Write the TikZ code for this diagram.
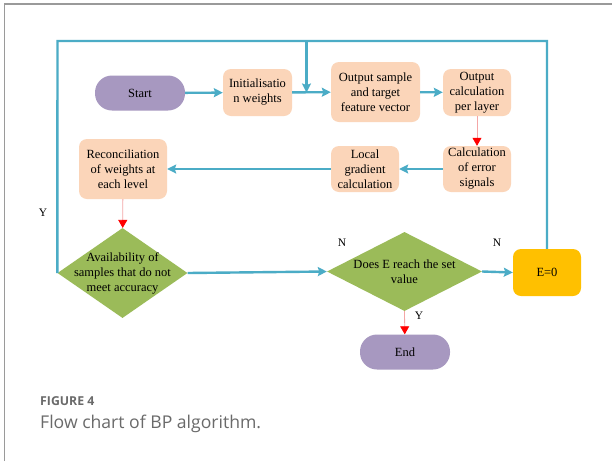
\documentclass[tikz,border=0pt]{standalone}
\usepackage{fontspec}
\setmainfont{Liberation Serif}
\newfontfamily\capfont{Open Sans}
\usetikzlibrary{arrows.meta,shapes.geometric}
\definecolor{flowblue}{HTML}{4BACC6}
\definecolor{termpurple}{HTML}{A798C0}
\definecolor{procpeach}{HTML}{FBD5B9}
\definecolor{decgreen}{HTML}{9BBB59}
\definecolor{resyellow}{HTML}{FFC000}
\definecolor{framegray}{HTML}{9A9A9A}
\definecolor{capgray}{HTML}{6A6A6A}
\definecolor{pinkline}{HTML}{F4A6A6}
\tikzset{
  txt/.style={font=\fontsize{12.5}{15}\selectfont, align=center, inner sep=0pt},
  term/.style={txt, fill=termpurple, rounded corners=17pt, minimum width=90pt, minimum height=35pt},
  proc/.style={txt, fill=procpeach, rounded corners=8pt},
  dec/.style={diamond, fill=decgreen, inner sep=0pt},
  res/.style={txt, fill=resyellow, rounded corners=8pt},
  bline/.style={draw=flowblue, line width=2.4pt},
  barrow/.style={bline, -{Stealth[length=9pt,width=9pt,inset=1.5pt]}},
  rarrow/.style={draw=pinkline, line width=0.8pt, -{Triangle[length=8pt,width=9pt,color=red]}},
  lbl/.style={font=\fontsize{11.5}{13}\selectfont, inner sep=0pt}
}
\begin{document}
\begin{tikzpicture}[x=1pt,y=-1pt]
\useasboundingbox[fill=white] (0,0) rectangle (612,461);
% page frame
\draw[framegray, line width=1.4pt] (4.5,461) -- (4.5,4) -- (612,4);

% process nodes
\node[term] (start) at (140,93) {Start};
\node[proc, minimum width=69pt, minimum height=47pt] (init) at (257.5,92.5) {Initialisatio\\n weights};
\node[proc, minimum width=89pt, minimum height=60pt] (outs) at (375.5,92) {Output sample\\and target\\feature vector};
\node[proc, minimum width=68pt, minimum height=47pt] (outc) at (477,92.5) {Output\\calculation\\per layer};
\node[proc, minimum width=68pt, minimum height=46pt] (err) at (477,169) {Calculation\\of error\\signals};
\node[proc, minimum width=68pt, minimum height=46pt] (grad) at (365,169) {Local\\gradient\\calculation};
\node[proc, minimum width=88pt, minimum height=60pt] (rec) at (123,169) {Reconciliation\\of weights at\\each level};

% decisions
\node[dec, minimum width=130pt, minimum height=90pt] (d1) at (122.5,273) {};
\node[txt] at (d1) {Availability of\\samples that do not\\meet accuracy};
\node[dec, minimum width=155pt, minimum height=79pt] (d2) at (404.5,271.5) {};
\node[txt] at (d2.center) {Does E reach the set\\value};

\node[res, minimum width=68pt, minimum height=47pt] (ez) at (547,272.5) {E=0};
\node[term] (stop) at (405,352) {End};

% loop corners
\coordinate (tl) at (57.5,41);
\coordinate (tr) at (547,41);
\coordinate (tm) at (306.5,41);

% connectors
\draw[barrow] (start) -- (init);
\draw[barrow] (init) -- (outs);
\draw[barrow] (outs) -- (outc);
\draw[rarrow] (outc) -- (err);
\draw[barrow] (err) -- (grad);
\draw[barrow] (grad) -- (rec);
\draw[rarrow] (rec) -- (d1);
\draw[barrow] (d1.east) -- (d2.west);
\draw[barrow] (d2.east) -- (ez.west);
\draw[rarrow] (d2.south) -- (stop);
\draw[bline] (ez.north) -- (tr) -- (tl) -- (d1.west);
\draw[barrow] (tm) -- (tm |- init.east);

% branch labels
\node[lbl] at (43,213) {Y};
\node[lbl] at (342,243) {N};
\node[lbl] at (497,243) {N};
\node[lbl] at (419,316) {Y};

% caption
\node[anchor=base west, inner sep=0pt, text=capgray, font=\capfont\bfseries\fontsize{12.3}{14}\selectfont] at (40,405) {FIGURE 4};
\node[anchor=base west, inner sep=0pt, text=capgray, font=\capfont\fontsize{17.6}{20}\selectfont] at (40,428) {Flow chart of BP algorithm.};
\end{tikzpicture}
\end{document}
